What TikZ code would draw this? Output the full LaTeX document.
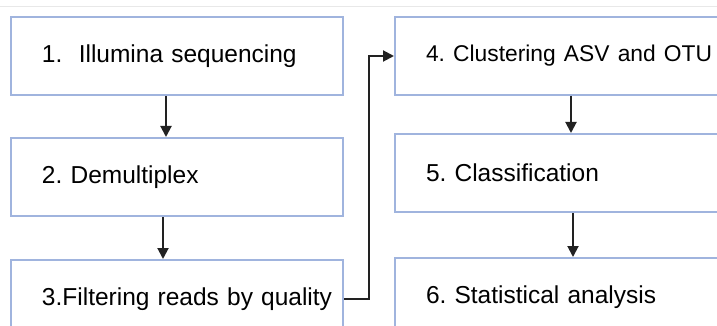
\documentclass[tikz,border=0pt]{standalone}
\usepackage{fontspec}
\setsansfont{Liberation Sans}
\usetikzlibrary{
  positioning,
  calc,
  arrows.meta}
\definecolor{boxcolor}{RGB}{160,180,222}
\definecolor{flowcolor}{RGB}{34,34,34}
\definecolor{rulecolor}{RGB}{232,232,232}
\tikzset{
  %% stepbox : one step of the pipeline
  stepbox/.style={
    rectangle,
    draw=boxcolor,
    line width=2pt,
    fill=white,
    minimum height=78pt,
    text width=332pt,
    inner xsep=0pt,
    align=left,
    execute at begin node={\hspace*{31pt}}
  },
  %% widebox : right column, runs past the edge
  widebox/.style={
    stepbox,
    text width=360pt
  },
  %% flow : connection between steps
  flow/.style={
    draw=flowcolor,
    line width=2pt,
    -{Triangle[length=11pt, width=11pt]}
  }
}

\begin{document}
\begin{tikzpicture}
  [x=1pt,
  y=-1pt,
  node distance=41pt and 50pt]
  \sffamily
  \frenchspacing
  \fontsize{24.5}{29}\selectfont

  \useasboundingbox (0, 0) rectangle (717, 326);
  \clip (0, 0) rectangle (717, 326);

  %% Thin rule on top
  \draw [rulecolor, line width=1pt] (0, 7) -- (717, 7);

  %% Left column
  \node (illumina) [stepbox] at (177, 56){%
    1.\ \ Illumina sequencing
  };

  \node (demux) [below=41pt of illumina, stepbox]{%
    2. Demultiplex
  };

  \node (filter) [below=42pt of demux, stepbox]{%
    3.Filtering reads by quality
  };

  %% Right column
  \node (cluster) [right=50pt of illumina, widebox]{%
    \mbox{\fontsize{22.8}{29}\selectfont 4. Clustering ASV and OTU}
  };

  \node (classif) [below=37pt of cluster, widebox]{%
    5. Classification
  };

  \node (stats) [below=44pt of classif, widebox]{%
    6. Statistical analysis
  };

  %% Connections
  \draw [flow] ([xshift=-11pt]illumina.south) -- ([xshift=-11pt]demux.north);
  \draw [flow] ([xshift=-14pt]demux.south) -- ([xshift=-14pt]filter.north);
  \draw [flow] (filter.east) -- ++(25, 0) |- (cluster.west);
  \draw [flow] ([xshift=-4pt]cluster.south) -- ([xshift=-4pt]classif.north);
  \draw [flow] ([xshift=-2pt]classif.south) -- ([xshift=-2pt]stats.north);

\end{tikzpicture}
\end{document}
